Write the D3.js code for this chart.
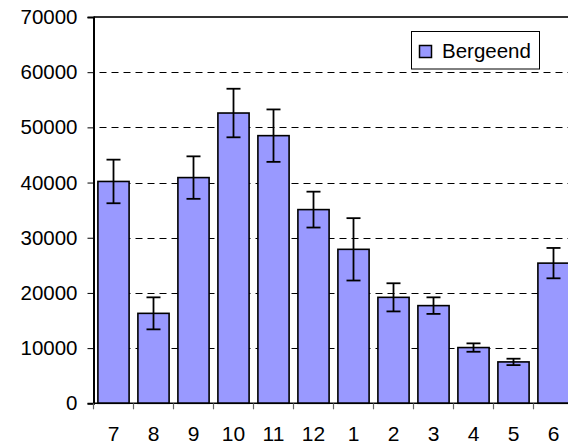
<!DOCTYPE html>
<html>
<head>
<meta charset="utf-8">
<script src="https://cdn.jsdelivr.net/npm/d3@7"></script>
<style>
  html, body { margin: 0; padding: 0; background: #fff; }
  svg { display: block; }
  text { font-family: Arial, "Liberation Sans", sans-serif; fill: #000; }
</style>
</head>
<body>
<script>
const months = ["7", "8", "9", "10", "11", "12", "1", "2", "3", "4", "5", "6"];
const values = [40200, 16300, 40900, 52600, 48500, 35100, 27900, 19200, 17700, 10100, 7500, 25400];
const errors = [3950, 2900, 3850, 4400, 4750, 3250, 5650, 2550, 1500, 760, 580, 2750];
const yTicks = [0, 10000, 20000, 30000, 40000, 50000, 60000, 70000];
const seriesName = "Bergeend";

const W = 568, H = 447;
const plotLeft = 93.5, plotTop = 17, plotBottom = 403.3, catW = 40;
const plotRight = plotLeft + catW * months.length;

const svg = d3.select("body").append("svg").attr("width", W).attr("height", H);

const x = d3.scaleBand().domain(months).range([plotLeft, plotRight]).paddingInner(0.22).paddingOuter(0.11);
const y = d3.scaleLinear().domain([0, 70000]).range([plotBottom, plotTop]);

// gridlines
svg.append("g").selectAll("line")
  .data(yTicks.filter(d => d > 0 && d < 70000))
  .join("line")
  .attr("x1", plotLeft).attr("x2", W)
  .attr("y1", d => Math.round(y(d)) + 0.5).attr("y2", d => Math.round(y(d)) + 0.5)
  .attr("stroke", "#000").attr("stroke-width", 1)
  .attr("stroke-dasharray", "7,5").attr("stroke-dashoffset", -6);

// top border
svg.append("line").attr("x1", plotLeft).attr("x2", W)
  .attr("y1", y(70000)).attr("y2", y(70000))
  .attr("stroke", "#333").attr("stroke-width", 2);

// bars
svg.append("g").selectAll("rect")
  .data(months)
  .join("rect")
  .attr("x", d => x(d))
  .attr("width", x.bandwidth())
  .attr("y", (d, i) => y(values[i]))
  .attr("height", (d, i) => plotBottom - y(values[i]))
  .attr("fill", "#9999FF").attr("stroke", "#000").attr("stroke-width", 1.6);

// error bars
const eb = svg.append("g").attr("stroke", "#000").attr("stroke-width", 1.8);
months.forEach((m, i) => {
  const cx = x(m) + x.bandwidth() / 2;
  const hi = y(values[i] + errors[i]), lo = y(values[i] - errors[i]);
  eb.append("line").attr("x1", cx).attr("x2", cx).attr("y1", hi).attr("y2", lo);
  eb.append("line").attr("x1", cx - 7).attr("x2", cx + 7).attr("y1", hi).attr("y2", hi);
  eb.append("line").attr("x1", cx - 7).attr("x2", cx + 7).attr("y1", lo).attr("y2", lo);
});

// y axis
const yAxis = d3.axisLeft(y).tickValues(yTicks).tickSize(6).tickPadding(10).tickFormat(d3.format("d"));
const gy = svg.append("g").attr("transform", `translate(${plotLeft},0)`).call(yAxis);
gy.select(".domain").attr("stroke", "#000").attr("stroke-width", 2);
gy.selectAll(".tick line").attr("stroke", "#000").attr("stroke-width", 1);
gy.selectAll(".tick text").style("font-size", "20.5px").attr("font-family", "Arial, 'Liberation Sans', sans-serif").attr("fill", "#000");

// x axis
const xTickScale = d3.scaleLinear().domain([0, months.length]).range([plotLeft, plotRight]);
const xg = svg.append("g");
xg.append("line").attr("x1", plotLeft).attr("x2", W).attr("y1", plotBottom).attr("y2", plotBottom)
  .attr("stroke", "#000").attr("stroke-width", 1.6);
xg.selectAll("line.tk").data(d3.range(months.length + 1)).join("line").attr("class", "tk")
  .attr("x1", d => xTickScale(d)).attr("x2", d => xTickScale(d))
  .attr("y1", plotBottom).attr("y2", plotBottom + 6)
  .attr("stroke", "#666").attr("stroke-width", 1.2);
xg.selectAll("text").data(months).join("text")
  .attr("x", d => x(d) + x.bandwidth() / 2)
  .attr("y", 440.5)
  .attr("text-anchor", "middle")
  .style("font-size", "21px")
  .text(d => d);

// legend
const lg = svg.append("g");
lg.append("rect").attr("x", 411.5).attr("y", 31.5).attr("width", 128).attr("height", 37.5)
  .attr("fill", "#fff").attr("stroke", "#000").attr("stroke-width", 1);
lg.append("rect").attr("x", 419.5).attr("y", 45.5).attr("width", 12).attr("height", 12)
  .attr("fill", "#9999FF").attr("stroke", "#000").attr("stroke-width", 1.5);
lg.append("text").attr("x", 442).attr("y", 57.5).style("font-size", "20.5px").text(seriesName);
</script>
</body>
</html>
